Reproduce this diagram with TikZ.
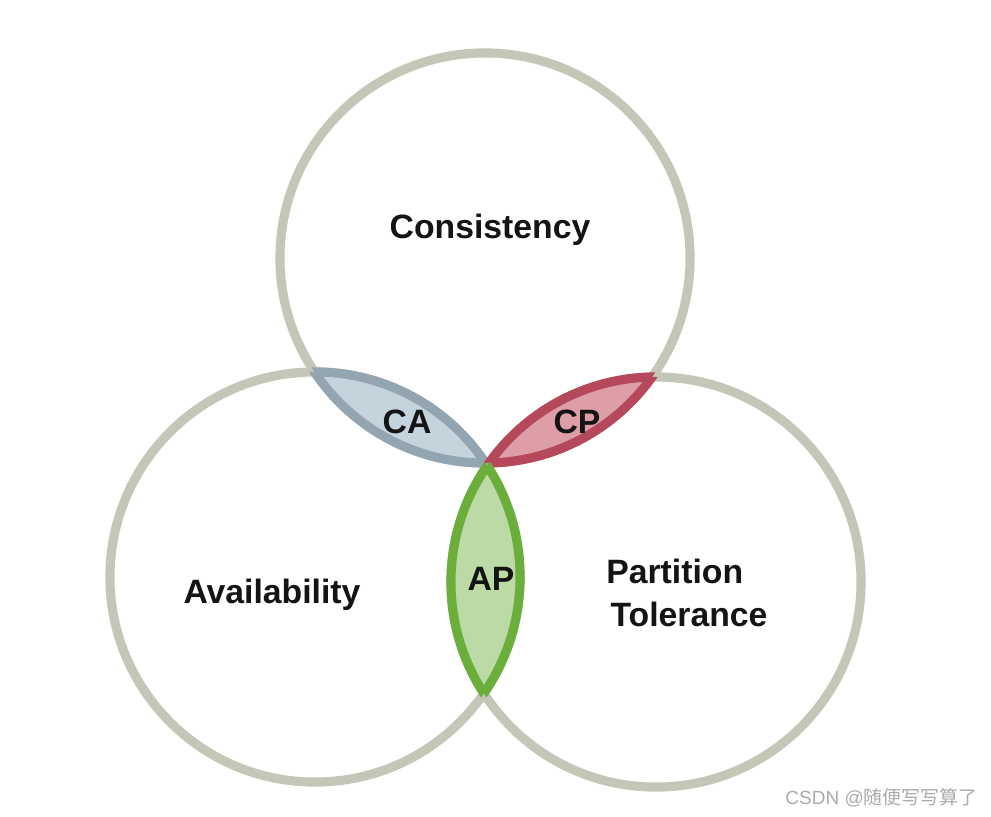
\documentclass[tikz,border=0pt]{standalone}
\usepackage{fontspec}
\setmainfont{Liberation Sans}
\newfontfamily\cjkfont{Noto Sans CJK SC}
\definecolor{ringc}{RGB}{196,198,184}
\definecolor{cafill}{RGB}{197,211,221}
\definecolor{cadraw}{RGB}{147,165,177}
\definecolor{cpfill}{RGB}{221,158,167}
\definecolor{cpdraw}{RGB}{181,72,90}
\definecolor{apfill}{RGB}{188,218,165}
\definecolor{apdraw}{RGB}{108,174,60}
\definecolor{txt}{RGB}{20,20,20}
\definecolor{wm}{RGB}{170,170,170}
\begin{document}
\begin{tikzpicture}[x=0.025cm,y=-0.025cm,
  ring/.style={draw=ringc, line width=6.5pt},
  lensline/.style={line width=6.5pt},
  lbl/.style={font=\fontsize{24}{30.5}\selectfont\bfseries, text=txt, anchor=base, inner sep=0pt},
]
\useasboundingbox[fill=white] (0,0) rectangle (991,816);
\def\R{5.125cm}
\coordinate (top) at (485,258);
\coordinate (left) at (315,577);
\coordinate (right) at (656,582);
% rings
\draw[ring] (top) circle[radius=\R];
\draw[ring] (left) circle[radius=\R];
\draw[ring] (right) circle[radius=\R];
% CA lens
\begin{scope}
  \clip (top) circle[radius=\R];
  \fill[cafill] (left) circle[radius=\R];
  \draw[lensline, cadraw] (left) circle[radius=\R];
\end{scope}
\begin{scope}
  \clip (left) circle[radius=\R];
  \draw[lensline, cadraw] (top) circle[radius=\R];
\end{scope}
% CP lens
\begin{scope}
  \clip (top) circle[radius=\R];
  \fill[cpfill] (right) circle[radius=\R];
  \draw[lensline, cpdraw] (right) circle[radius=\R];
\end{scope}
\begin{scope}
  \clip (right) circle[radius=\R];
  \draw[lensline, cpdraw] (top) circle[radius=\R];
\end{scope}
% AP lens
\begin{scope}
  \clip (left) circle[radius=\R];
  \fill[apfill] (right) circle[radius=\R];
  \draw[lensline, apdraw] (right) circle[radius=\R];
\end{scope}
\begin{scope}
  \clip (right) circle[radius=\R];
  \draw[lensline, apdraw] (left) circle[radius=\R];
\end{scope}
% labels
\node[lbl] (cons) at (490,238) {Consistency};
\node[lbl] (ca) at (407,433) {CA};
\node[lbl] (cp) at (577,433) {CP};
\node[lbl] (ap) at (491,590) {AP};
\node[lbl] (avail) at (272,603) {Availability};
\node[lbl, anchor=base west, align=left] (part) at (606,626) {Partition\\\hspace*{3pt}Tolerance};
\node[font=\fontsize{13.5}{16}\selectfont, text=wm, anchor=base east, inner sep=0pt] (wmk) at (978,804) {CSDN @{\cjkfont 随便写写算了}};
\end{tikzpicture}
\end{document}
